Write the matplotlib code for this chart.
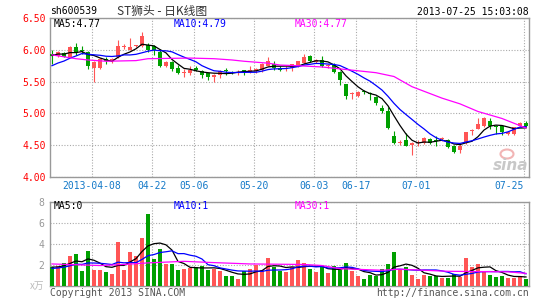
import numpy as np
import pandas as pd
import matplotlib
matplotlib.use('Agg')
import matplotlib.pyplot as plt
from matplotlib.patches import Ellipse

W, H = 545, 300

# daily K line, ST狮头 (sh600539), 80 trading days up to 2013-07-25
opens = [5.93, 5.90, 5.95, 5.89, 6.04, 5.99, 5.97, 5.71, 5.72, 5.86,
         5.82, 5.88, 6.04, 6.00, 6.06, 6.06, 6.08, 6.06, 5.97, 5.75,
         5.81, 5.72, 5.64, 5.63, 5.72, 5.67, 5.63, 5.57, 5.61, 5.68,
         5.65, 5.64, 5.67, 5.65, 5.66, 5.69, 5.75, 5.78, 5.72, 5.70,
         5.72, 5.75, 5.79, 5.90, 5.81, 5.84, 5.74, 5.76, 5.65, 5.46,
         5.30, 5.28, 5.34, 5.32, 5.26, 5.08, 5.04, 4.65, 4.54, 4.58,
         4.50, 4.54, 4.53, 4.60, 4.58, 4.59, 4.58, 4.48, 4.43, 4.53,
         4.73, 4.76, 4.80, 4.88, 4.80, 4.80, 4.68, 4.68, 4.80, 4.85]
highs = [5.99, 5.98, 5.96, 6.06, 6.11, 6.06, 5.98, 5.82, 5.87, 5.89,
         5.87, 6.16, 6.09, 6.18, 6.08, 6.28, 6.11, 6.08, 6.01, 5.82,
         5.83, 5.76, 5.70, 5.75, 5.74, 5.68, 5.64, 5.62, 5.68, 5.72,
         5.67, 5.68, 5.69, 5.75, 5.72, 5.79, 5.88, 5.82, 5.74, 5.74,
         5.78, 5.83, 5.94, 5.92, 5.85, 5.90, 5.77, 5.79, 5.67, 5.46,
         5.34, 5.35, 5.37, 5.34, 5.28, 5.13, 5.10, 4.72, 4.58, 4.69,
         4.55, 4.58, 4.63, 4.62, 4.65, 4.63, 4.59, 4.50, 4.52, 4.71,
         4.76, 4.93, 4.94, 4.93, 4.81, 4.81, 4.73, 4.79, 4.86, 4.88]
lows = [5.78, 5.89, 5.88, 5.88, 5.92, 5.93, 5.70, 5.50, 5.70, 5.78,
        5.80, 5.87, 6.01, 5.99, 6.04, 6.05, 5.96, 5.92, 5.73, 5.73,
        5.66, 5.62, 5.58, 5.60, 5.66, 5.55, 5.53, 5.50, 5.56, 5.60,
        5.62, 5.60, 5.60, 5.63, 5.64, 5.65, 5.74, 5.68, 5.67, 5.67,
        5.67, 5.73, 5.78, 5.81, 5.79, 5.73, 5.72, 5.64, 5.44, 5.22,
        5.23, 5.26, 5.30, 5.21, 5.13, 5.01, 4.76, 4.52, 4.50, 4.48,
        4.34, 4.49, 4.52, 4.52, 4.48, 4.57, 4.46, 4.37, 4.37, 4.52,
        4.66, 4.75, 4.78, 4.76, 4.68, 4.66, 4.66, 4.66, 4.80, 4.78]
closes = [5.90, 5.97, 5.89, 6.05, 5.97, 5.98, 5.74, 5.81, 5.86, 5.82,
          5.86, 6.06, 6.05, 6.04, 6.07, 6.22, 5.99, 5.99, 5.75, 5.81,
          5.70, 5.63, 5.65, 5.68, 5.69, 5.61, 5.57, 5.61, 5.67, 5.67,
          5.64, 5.65, 5.66, 5.69, 5.70, 5.78, 5.82, 5.72, 5.69, 5.71,
          5.77, 5.82, 5.89, 5.82, 5.84, 5.75, 5.75, 5.65, 5.52, 5.28,
          5.31, 5.33, 5.33, 5.31, 5.16, 5.03, 4.77, 4.54, 4.55, 4.49,
          4.54, 4.55, 4.62, 4.53, 4.57, 4.62, 4.47, 4.40, 4.49, 4.71,
          4.74, 4.83, 4.92, 4.80, 4.79, 4.71, 4.71, 4.79, 4.85, 4.80]
volumes = [1.8, 1.95, 2.2, 2.9, 3.05, 1.45, 3.3, 1.55, 1.55, 1.35,
           1.15, 4.2, 1.55, 3.2, 2.9, 4.55, 6.9, 2.6, 3.5, 2.05,
           2.05, 1.5, 1.6, 1.7, 1.85, 1.95, 1.5, 1.65, 1.4, 1.0,
           1.0, 0.7, 1.45, 1.6, 2.0, 1.55, 2.7, 1.8, 1.45, 1.3,
           1.85, 2.45, 2.15, 1.65, 1.3, 1.9, 1.25, 1.9, 1.55, 2.15,
           1.45, 1.0, 0.7, 1.05, 1.0, 1.65, 2.1, 3.2, 1.65, 1.85,
           1.05, 0.7, 1.05, 1.0, 1.0, 0.8, 0.8, 1.15, 0.9, 2.7,
           1.85, 2.05, 1.45, 1.05, 0.9, 1.0, 0.8, 0.8, 1.0, 0.7]

# days before the window, only needed so MA5/MA10 start where the chart does
pre_closes = [5.55, 5.58, 5.60, 5.62, 5.60, 5.85, 5.90, 5.93, 5.97]
pre_volumes = [1.5, 1.4, 1.6, 1.5, 1.7, 1.9, 1.6, 1.8, 1.9]

# MA30 (needs a month of history we don't have)
ma30_idx = [0, 4, 6, 9, 14, 16, 23, 27, 30, 32, 36, 38, 41, 45, 50, 54, 57,
            60, 65, 68, 71, 75, 79]
ma30_val = [5.92, 5.86, 5.84, 5.82, 5.83, 5.86, 5.87, 5.86, 5.84, 5.82, 5.79,
            5.76, 5.75, 5.73, 5.68, 5.64, 5.58, 5.42, 5.24, 5.15, 5.03, 4.92,
            4.77]
vol_ma30_idx = [0, 8, 12, 16, 22, 26, 33, 42, 45, 48, 55, 58, 66, 76, 79]
vol_ma30_val = [2.1, 1.95, 2.05, 2.2, 2.35, 2.25, 2.1, 2.05, 1.95, 1.65, 1.5,
                1.6, 1.4, 1.35, 1.2]

date_idx = [7, 17, 24, 34, 44, 51, 61, 79]
date_labels = ['2013-04-08', '04-22', '05-06', '05-20', '06-03', '06-17',
               '07-01', '07-25']
price_ticks = [4.0, 4.5, 5.0, 5.5, 6.0, 6.5]
vol_ticks = [2, 4, 6, 8]

RED = '#FF5555'
GREEN = '#00A000'
GRID = '#AAAAAA'
FRAME = '#999999'
MONO = 'DejaVu Sans Mono'


def fy(y):
    return 1 - y / H


def style_axes(ax):
    for s in ax.spines.values():
        s.set_color(FRAME)
        s.set_linewidth(1.0)
    ax.grid(True, linestyle=(0, (1, 1.5)), color=GRID, linewidth=0.8)
    ax.tick_params(length=0)
    ax.set_xlim(-0.33, 79.5)
    ax.set_xticks([d - 0.33 for d in date_idx])


fig = plt.figure(figsize=(W / 100, H / 100), dpi=100)
ax = fig.add_axes([50 / W, fy(177), 479 / W, 159 / H])
axv = fig.add_axes([50 / W, fy(286), 479 / W, 84 / H])

x = np.arange(len(closes))
o = np.array(opens)
c = np.array(closes)
colors = np.where(c >= o, RED, GREEN)

# candles
ax.vlines(x, lows, highs, colors=colors, linewidth=0.8, zorder=3)
ax.bar(x, np.maximum(np.abs(c - o), 0.016), bottom=np.minimum(o, c),
       width=0.8, color=colors, linewidth=0, zorder=3)

s = pd.Series(pre_closes + closes)
ma5 = s.rolling(5).mean().values[len(pre_closes):]
ma10 = s.rolling(10).mean().values[len(pre_closes):]
ax.plot(x, ma5, color='black', lw=0.9, zorder=4)
ax.plot(x, ma10, color='blue', lw=0.9, zorder=4)
ax.plot(ma30_idx, ma30_val, color='#FF00FF', lw=0.9, zorder=4)

style_axes(ax)
ax.set_ylim(4.0, 6.5)
ax.set_yticks(price_ticks)
ax.set_yticklabels(['%.2f' % t for t in price_ticks], color='#FF0000',
                   family=MONO, fontsize=7)
ax.set_xticklabels(date_labels, color='#1479C8', family=MONO, fontsize=7)
ax.tick_params(axis='x', pad=3)
ax.tick_params(axis='y', pad=3)
ax.get_xticklabels()[-1].set_ha('right')

# volume
axv.bar(x, volumes, width=0.8, color=colors, linewidth=0, zorder=3)
sv = pd.Series(pre_volumes + volumes)
vma5 = sv.rolling(5).mean().values[len(pre_volumes):]
vma10 = sv.rolling(10).mean().values[len(pre_volumes):]
axv.plot(x, vma5, color='black', lw=0.9, zorder=4)
axv.plot(x, vma10, color='blue', lw=0.9, zorder=4)
axv.plot(vol_ma30_idx, vol_ma30_val, color='#FF00FF', lw=0.9, zorder=4)

style_axes(axv)
axv.set_xticklabels([])
axv.set_ylim(0, 8)
axv.set_yticks(vol_ticks)
axv.set_yticklabels([str(t) for t in vol_ticks], color=FRAME, family=MONO,
                    fontsize=7)
axv.tick_params(axis='y', pad=4)

# header and labels
fig.text(50 / W, fy(11), 'sh600539', family=MONO, fontsize=7, va='center')
fig.text(117 / W, fy(11), 'ST狮头 - 日K线图', family=['Noto Sans CJK SC'],
         fontsize=8.5, va='center', color='#333333')
fig.text(529 / W, fy(12), '2013-07-25 15:03:08', family=MONO, fontsize=7,
         va='center', ha='right')

fig.text(54 / W, fy(24), 'MA5:%.2f' % ma5[-1], family=MONO, fontsize=7,
         va='center')
fig.text(174 / W, fy(24), 'MA10:%.2f' % ma10[-1], family=MONO, fontsize=7,
         va='center', color='blue')
fig.text(295 / W, fy(24), 'MA30:%.2f' % ma30_val[-1], family=MONO,
         fontsize=7, va='center', color='#FF00FF')

fig.text(54 / W, fy(206), 'MA5:%d' % int(vma5[-1]), family=MONO, fontsize=7,
         va='center')
fig.text(174 / W, fy(206), 'MA10:%d' % int(vma10[-1]), family=MONO,
         fontsize=7, va='center', color='blue')
fig.text(295 / W, fy(206), 'MA30:%d' % int(vol_ma30_val[-1]), family=MONO,
         fontsize=7, va='center', color='#FF00FF')

fig.text(44 / W, fy(286), 'x万', family=['Noto Sans CJK SC'], fontsize=7,
         va='center', ha='right', color='#BBBBBB')
fig.text(50 / W, fy(293), 'Copyright 2013 SINA.COM', family=MONO,
         fontsize=7, va='center', color='#555555')
fig.text(529 / W, fy(293), 'http://finance.sina.com.cn', family=MONO,
         fontsize=7, va='center', ha='right', color='#555555')

# sina watermark
fig.patches.append(Ellipse((507 / W, fy(154)), 13 / W, 9 / H,
                           transform=fig.transFigure, facecolor='none',
                           edgecolor='#F2B5B5', linewidth=1.5))
fig.text(528 / W, fy(166), 'sina', fontsize=11, fontweight='bold',
         style='italic', color='#C8C8C8', ha='right', va='center', zorder=1)

fig.savefig('out.png', dpi=100)
